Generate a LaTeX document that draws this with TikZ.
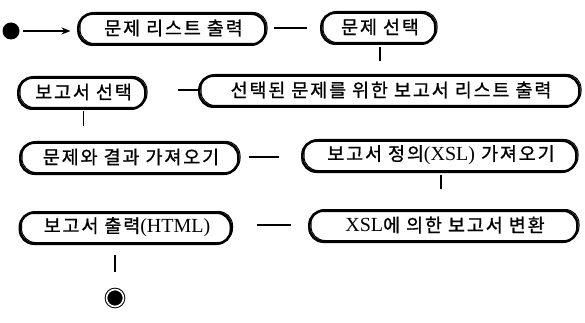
\documentclass[tikz,border=0pt]{standalone}
\usepackage{fontspec}
\newfontfamily\kr[FakeBold=1,LetterSpace=10]{Noto Sans CJK KR}
\newfontfamily\lat{Liberation Serif}
\usetikzlibrary{arrows.meta}
\tikzset{
  act/.style={draw, line width=1pt, rounded corners=14pt, inner sep=0pt,
    minimum height=31pt, font=\kr\fontsize{18.5}{18.5}\selectfont,
    preaction={draw, line width=2.6pt, rounded corners=14pt,
      transform canvas={xshift=-1.6pt, yshift=-1.2pt}}},
  link/.style={line width=1.8pt},
  startdot/.style={circle, fill=black, minimum size=17pt, inner sep=0pt},
  enddot/.style={circle, draw, line width=1pt, fill=black, double=white,
    double distance=1.6pt, minimum size=17pt, inner sep=0pt}
}
\newcommand{\lt}[1]{{\lat\fontsize{20}{20}\selectfont #1}}
\begin{document}
\begin{tikzpicture}[x=1pt, y=-1pt]
\useasboundingbox (0,0) rectangle (585,323);
\node[startdot] (s) at (11,31) {};
\node[act, minimum width=187pt] (n1) at (173.5,28) {문제 리스트 출력};
\node[act, minimum width=114pt] (n2) at (380,27) {문제 선택};
\node[act, minimum width=380pt] (n3) at (391,90) {선택된 문제를 위한 보고서 리스트 출력};
\node[act, minimum width=127pt] (n4) at (83.5,92) {보고서 선택};
\node[act, minimum width=218pt] (n5) at (131,157) {문제와 결과 가져오기};
\node[act, minimum width=274pt] (n6) at (441,155) {보고서 정의\lt{(XSL)} 가져오기};
\node[act, minimum width=268pt] (n7) at (445,225) {\lt{XSL}에 의한 보고서 변환};
\node[act, minimum width=211pt] (n8) at (127,227) {보고서 출력\lt{(HTML)}};
\node[enddot] (e) at (115,298) {};

\draw[link, -{Stealth[length=9pt, width=7pt]}, shorten <=3pt, shorten >=9pt] (s) -- (s -| n1.west);
\draw[link, shorten <=6pt, shorten >=16pt] (n1.east) -- (n1.east -| n2.west);
\draw[link, shorten <=4pt, shorten >=13pt] (n2.south) -- (n2.south |- n3.north);
\draw[link, shorten <=3pt, shorten >=30pt] (n3.west) -- (n3.west -| n4.east);
\draw[link, shorten <=3pt, shorten >=15pt] (n4.south) -- (n4.south |- n5.north);
\draw[link, shorten <=8pt, shorten >=25pt] (n5.east) -- (n5.east -| n6.west);
\draw[link, shorten <=4pt, shorten >=20pt] (n6.south) -- (n6.south |- n7.north);
\draw[link, shorten <=20pt, shorten >=24pt] (n7.west) -- (n7.west -| n8.east);
\draw[link, shorten <=12pt, shorten >=17pt] (n8.south -| e) -- (e.north);
\end{tikzpicture}
\end{document}
